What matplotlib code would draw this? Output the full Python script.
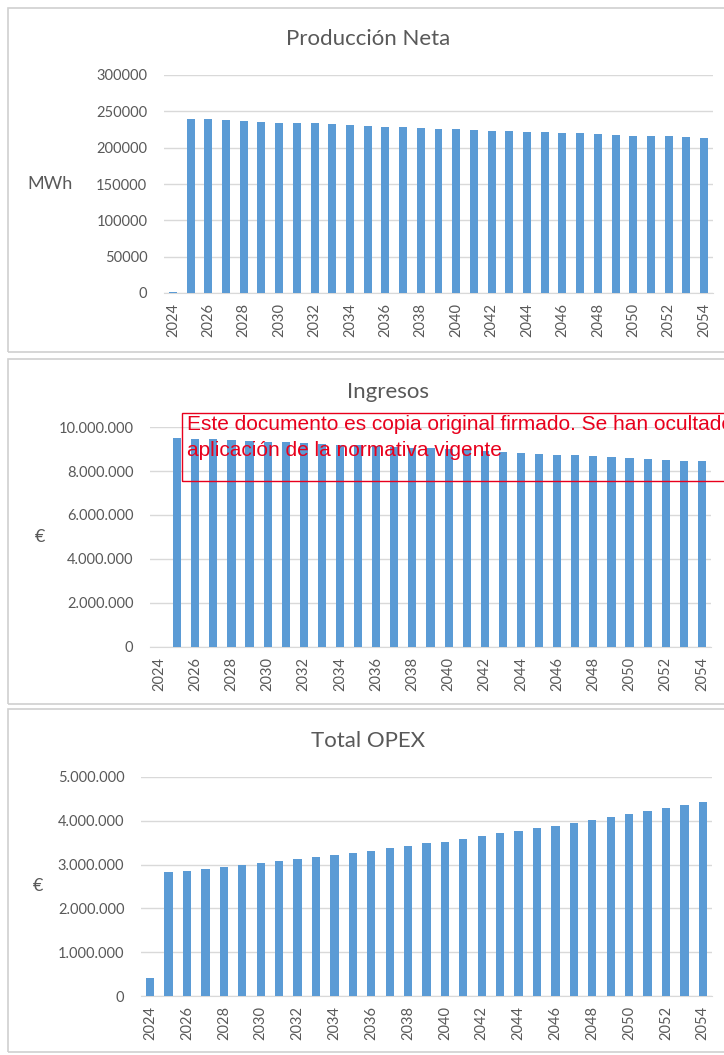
import matplotlib
matplotlib.use("Agg")
import matplotlib.pyplot as plt
from matplotlib.patches import Rectangle
from matplotlib.ticker import FuncFormatter
import numpy as np

years = list(range(2024, 2055))

produccion_mwh = [1500, 239900, 239000, 237600, 236700, 235300, 234400, 233500, 233500,
                  232100, 231200, 230300, 228900, 228400, 227500, 226100, 225200, 224300,
                  222900, 222900, 222000, 221100, 219700, 219700, 218800, 217400, 216500,
                  215600, 215600, 214200, 213300]

ingresos_eur = [0, 9515000, 9470000, 9440000, 9410000, 9380000, 9330000, 9300000, 9270000,
                9240000, 9200000, 9170000, 9140000, 9110000, 9060000, 9030000, 9000000,
                8950000, 8920000, 8850000, 8820000, 8770000, 8740000, 8710000, 8670000,
                8640000, 8590000, 8550000, 8520000, 8470000, 8440000]

opex_eur = [400000, 2820000, 2850000, 2910000, 2950000, 2990000, 3040000, 3080000, 3130000,
            3170000, 3230000, 3260000, 3320000, 3380000, 3430000, 3490000, 3520000, 3590000,
            3650000, 3720000, 3770000, 3830000, 3880000, 3950000, 4010000, 4080000, 4160000,
            4220000, 4300000, 4370000, 4430000]

W, H = 724, 1055
BLUE = "#5B9BD5"
GREY_TXT = "#595959"
GRID = "#d9d9d9"
FONT = "Lato"

fig = plt.figure(figsize=(W / 100, H / 100), dpi=100)
fig.patch.set_facecolor("white")


def box(x0, y0, x1, y1):
    # pixel box (top-left origin) -> figure fraction rect
    return [x0 / W, 1 - y1 / H, (x1 - x0) / W, (y1 - y0) / H]


def dotted(v, pos):
    return f"{v:,.0f}".replace(",", ".")


def panel(frame, axbox, values, ymax, ystep, title, title_xy, ylabel, ylabel_xy, fmt):
    fig.patches.append(Rectangle((frame[0] / W, 1 - frame[3] / H),
                                 (frame[2] - frame[0]) / W, (frame[3] - frame[1]) / H,
                                 transform=fig.transFigure, fill=False,
                                 edgecolor="#d0d0d0", lw=1.2))
    ax = fig.add_axes(box(*axbox))
    x = np.arange(len(years))
    ax.bar(x, values, width=0.45, color=BLUE, zorder=3)
    ax.set_xlim(-0.5, len(years) - 0.5)
    ax.set_ylim(0, ymax)
    ax.set_yticks(np.arange(0, ymax + 1, ystep))
    ax.yaxis.set_major_formatter(FuncFormatter(fmt))
    ax.set_xticks(x[::2])
    ax.set_xticklabels([str(y) for y in years[::2]], rotation=90)
    ax.grid(axis="y", color=GRID, lw=1, zorder=0)
    for s in ["top", "right", "left"]:
        ax.spines[s].set_visible(False)
    ax.spines["bottom"].set_color(GRID)
    ax.tick_params(length=0, colors=GREY_TXT, labelsize=10.5)
    ax.tick_params(axis="x", pad=7)
    ax.tick_params(axis="y", pad=12)
    for lab in ax.get_xticklabels() + ax.get_yticklabels():
        lab.set_family(FONT)
    ax.set_facecolor("none")
    fig.text(title_xy[0] / W, 1 - title_xy[1] / H, title, ha="center", va="center",
             fontsize=16, color=GREY_TXT, family=FONT)
    fig.text(ylabel_xy[0] / W, 1 - ylabel_xy[1] / H, ylabel, ha="center", va="center",
             fontsize=13, color=GREY_TXT, family=FONT)
    return ax


panel((8, 8, 740, 352), (164, 75, 713, 293), produccion_mwh, 300000, 50000,
      "Producción Neta", (368, 39), "MWh", (50, 184), lambda v, p: f"{v:.0f}")
panel((8, 359, 740, 704), (150, 427, 711, 647), ingresos_eur, 10000000, 2000000,
      "Ingresos", (388, 392), "€", (40, 537), dotted)
panel((8, 709, 740, 1052), (141, 777, 712, 996), opex_eur, 5000000, 1000000,
      "Total OPEX", (368, 741), "€", (38, 886), dotted)

# stamp over the middle chart
RED = "#e8001c"
fig.patches.append(Rectangle((182 / W, 1 - 481 / H), 600 / W, 68 / H,
                             transform=fig.transFigure, fill=False,
                             edgecolor=RED, lw=1.0, zorder=10))
fig.text(187 / W, 1 - 425 / H, "Este documento es copia original firmado. Se han ocultado",
         ha="left", va="center", fontsize=15, color=RED, family="Liberation Sans", zorder=11)
fig.text(187 / W, 1 - 450 / H, "aplicación de la normativa vigente",
         ha="left", va="center", fontsize=15, color=RED, family="Liberation Sans", zorder=11)

fig.savefig("out.png", dpi=100, facecolor="white")
